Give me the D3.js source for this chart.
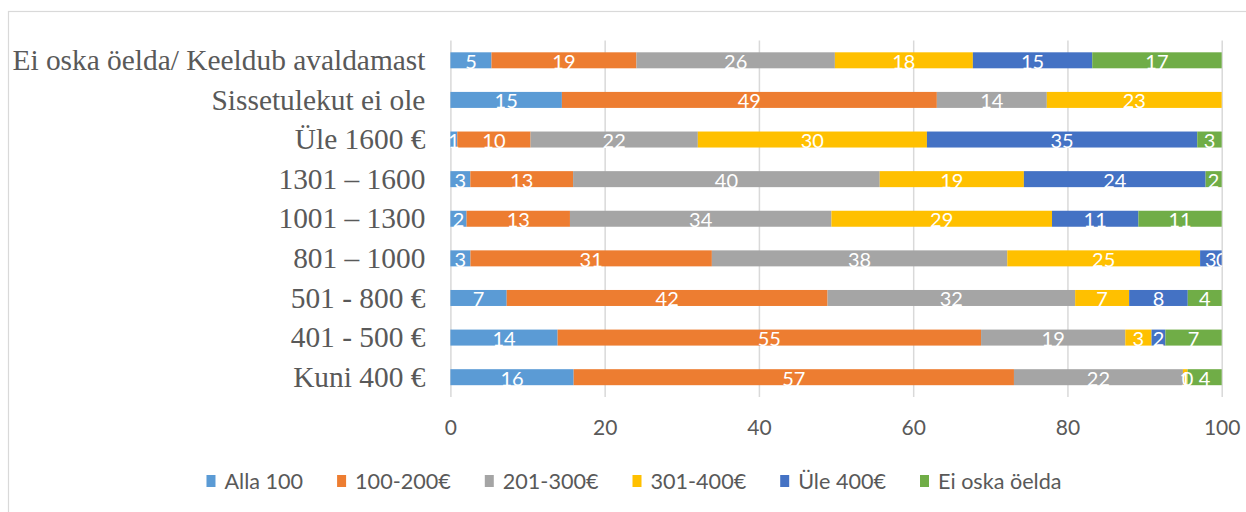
<!DOCTYPE html>
<html>
<head>
<meta charset="utf-8">
<script src="https://cdn.jsdelivr.net/npm/d3@7"></script>
<style>
  html, body { margin: 0; padding: 0; background: #fff; }
  svg { display: block; }
</style>
</head>
<body>
<svg id="chart" width="1246" height="512"></svg>
<script>
// Income groups (rows, top to bottom)
const categories = [
  "Ei oska öelda/ Keeldub avaldamast",
  "Sissetulekut ei ole",
  "Üle 1600 €",
  "1301 – 1600",
  "1001 – 1300",
  "801 – 1000",
  "501 - 800 €",
  "401 - 500 €",
  "Kuni 400 €"
];

// Answer groups (stack order, left to right)
const seriesNames = ["Alla 100", "100-200€", "201-300€", "301-400€", "Üle 400€", "Ei oska öelda"];
const seriesColors = ["#5B9BD5", "#ED7D31", "#A5A5A5", "#FFC000", "#4472C4", "#70AD47"];

// Shares per income group, one array per answer group (null = no answer given)
const alla100   = [5.3, 14.6, 0.9, 2.6, 2.1, 2.6, 7.3, 13.9, 15.9];
const s100_200  = [18.7, 49.1, 9.6, 13.4, 13.4, 31.3, 41.6, 54.9, 56.8];
const s201_300  = [25.6, 14.4, 21.9, 40.0, 33.9, 38.3, 32.1, 18.7, 21.8];
const s301_400  = [17.8, 22.9, 30.0, 18.8, 28.6, 25.0, 7.0, 3.4, 0.6];
const yle400    = [15.4, null, 35.4, 23.7, 11.2, 2.8, 7.6, 1.8, 0];
const eiOska    = [16.7, null, 3.2, 2.1, 10.8, 0, 4.4, 7.3, 4.4];

const xTicks = [0, 20, 40, 60, 80, 100];

const seriesValues = [alla100, s100_200, s201_300, s301_400, yle400, eiOska];
const rows = categories.map((c, i) => {
  const r = { category: c };
  seriesNames.forEach((s, j) => { r[s] = seriesValues[j][i]; });
  return r;
});

const svg = d3.select("#chart");
const textColor = "#595959";
const gridColor = "#d9d9d9";
const sansFont = "Lato, 'Open Sans', 'Noto Sans', sans-serif";

// outer frame
svg.append("rect")
  .attr("x", 8.5).attr("y", 11.5)
  .attr("width", 1260).attr("height", 520)
  .attr("fill", "none").attr("stroke", gridColor).attr("stroke-width", 1.2);

const plot = { left: 450.4, right: 1221.7, top: 40.5, bottom: 397 };

const x = d3.scaleLinear().domain([0, 100]).range([plot.left, plot.right]);
const pad = 0.596;
const y = d3.scaleBand().domain(categories)
  .range([plot.top, plot.bottom])
  .paddingInner(pad).paddingOuter(pad / 2);

// gridlines
const grid = svg.append("g")
  .attr("transform", `translate(0,${plot.bottom})`)
  .call(d3.axisBottom(x).tickValues(xTicks).tickSize(-(plot.bottom - plot.top)).tickFormat(""));
grid.select(".domain").remove();
grid.selectAll("line").attr("stroke", gridColor).attr("stroke-width", 1.5);

// x tick labels
const xAxis = svg.append("g")
  .attr("transform", `translate(0,${plot.bottom})`)
  .call(d3.axisBottom(x).tickValues(xTicks).tickSize(0).tickPadding(0));
xAxis.select(".domain").remove();
xAxis.selectAll("text")
  .attr("y", 38).attr("dy", null)
  .attr("fill", textColor)
  .style("font-family", sansFont)
  .style("font-size", "21px");

// category labels
const yAxis = svg.append("g")
  .attr("transform", `translate(${plot.left},0)`)
  .call(d3.axisLeft(y).tickSize(0).tickPadding(25));
yAxis.select(".domain").remove();
yAxis.selectAll("text")
  .attr("fill", textColor)
  .attr("dy", "0.33em")
  .style("font-family", "'Liberation Serif', 'Times New Roman', serif")
  .style("font-size", "29.4px");

// stacked bars, each row scaled to 100%
const stack = d3.stack()
  .keys(seriesNames)
  .value((d, k) => d[k] == null ? 0 : d[k])
  .offset(d3.stackOffsetExpand);
const layers = stack(rows);

const barG = svg.append("g");
layers.forEach((layer, li) => {
  barG.append("g")
    .attr("fill", seriesColors[li])
    .selectAll("rect")
    .data(layer)
    .join("rect")
    .attr("x", d => x(d[0] * 100))
    .attr("width", d => Math.max(0, x(d[1] * 100) - x(d[0] * 100)))
    .attr("y", d => y(d.data.category))
    .attr("height", y.bandwidth());
});

// value labels
svg.append("clipPath").attr("id", "plotClip")
  .append("rect")
  .attr("x", 0).attr("y", 0)
  .attr("width", plot.right + 0.5).attr("height", 512);

const fmt = d3.format(".0f");
const labelG = svg.append("g").attr("clip-path", "url(#plotClip)");
layers.forEach((layer, li) => {
  labelG.append("g")
    .selectAll("text")
    .data(layer.filter(d => d.data[seriesNames[li]] != null))
    .join("text")
    .attr("x", d => x((d[0] + d[1]) / 2 * 100))
    .attr("y", d => y(d.data.category) + y.bandwidth() / 2)
    .attr("dy", "0.42em")
    .attr("text-anchor", "middle")
    .attr("fill", "#fff")
    .style("font-family", sansFont)
    .style("font-size", "20px")
    .text(d => fmt(d.data[seriesNames[li]]));
});

// legend
const legend = svg.append("g");
let lx = 0;
const items = [];
seriesNames.forEach((name, i) => {
  const g = legend.append("g");
  g.append("rect")
    .attr("x", 0).attr("y", -6)
    .attr("width", 9).attr("height", 12)
    .attr("fill", seriesColors[i]);
  const t = g.append("text")
    .attr("x", 18).attr("y", 8)
    .attr("fill", textColor)
    .style("font-family", sansFont)
    .style("font-size", "21.6px")
    .text(name);
  items.push({ g, w: 18 + t.node().getComputedTextLength() });
});
items.forEach((it, i) => {
  it.g.attr("transform", `translate(${lx},0)`);
  lx += it.w + (i < items.length - 1 ? 34 : 0);
});
legend.attr("transform", `translate(${634 - lx / 2},481)`);
</script>
</body>
</html>
